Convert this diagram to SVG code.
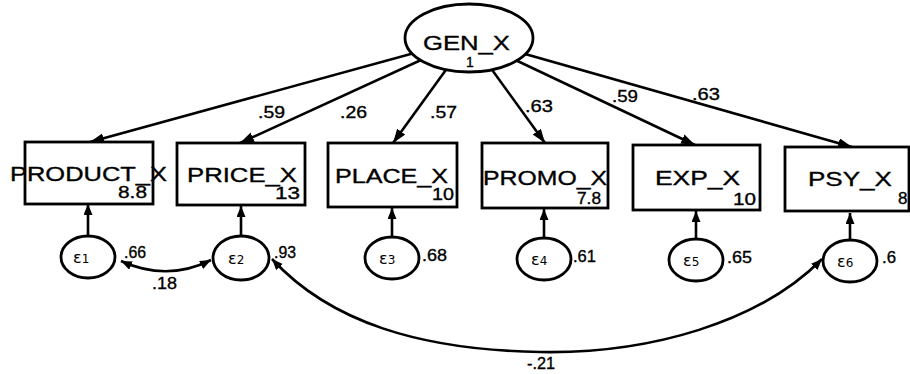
<svg xmlns="http://www.w3.org/2000/svg" width="910" height="374" viewBox="0 0 910 374">
<style>
.box{fill:#fff;stroke:#000;stroke-width:2.8}
.ell{fill:#fff;stroke:#000;stroke-width:2.8}
.ln{fill:none;stroke:#000;stroke-width:2.6}
.t{font-family:"Liberation Sans",Arial,sans-serif;fill:#000;stroke:#000;stroke-width:0.35}
.nm{font-size:21px}
.sm{font-size:17px}
.eps{font-family:"DejaVu Sans","Liberation Sans",sans-serif;font-size:16px;fill:#000}
</style>
<defs>
<marker id="ah" markerUnits="userSpaceOnUse" markerWidth="16" markerHeight="12" refX="14" refY="5" orient="auto-start-reverse">
<path d="M0,0 L14,5 L0,10 z" fill="#000"/>
</marker>
<marker id="ahs" markerUnits="userSpaceOnUse" markerWidth="12" markerHeight="12" refX="11" refY="4.5" orient="auto-start-reverse">
<path d="M0,0 L11,4.5 L0,9 z" fill="#000"/>
</marker>
</defs>
<rect width="910" height="374" fill="#fff"/>
<g id="connectors">
<line class="ln" x1="469" y1="38" x2="90" y2="142" marker-end="url(#ah)"/>
<line class="ln" x1="469" y1="38" x2="240" y2="143" marker-end="url(#ah)"/>
<line class="ln" x1="469" y1="38" x2="393" y2="143" marker-end="url(#ah)"/>
<line class="ln" x1="469" y1="38" x2="545" y2="143" marker-end="url(#ah)"/>
<line class="ln" x1="469" y1="38" x2="695" y2="145" marker-end="url(#ah)"/>
<line class="ln" x1="469" y1="38" x2="852" y2="147" marker-end="url(#ah)"/>
<line class="ln" x1="88" y1="236" x2="88" y2="204" marker-end="url(#ahs)"/>
<line class="ln" x1="241" y1="236" x2="241" y2="206" marker-end="url(#ahs)"/>
<line class="ln" x1="392" y1="236" x2="392" y2="208" marker-end="url(#ahs)"/>
<line class="ln" x1="544" y1="237" x2="544" y2="209" marker-end="url(#ahs)"/>
<line class="ln" x1="696" y1="238" x2="696" y2="211" marker-end="url(#ahs)"/>
<line class="ln" x1="850" y1="240" x2="850" y2="213" marker-end="url(#ahs)"/>
<path class="ln" d="M121,261 Q167,282 211,260" marker-start="url(#ahs)" marker-end="url(#ahs)"/>
<path class="ln" d="M272,259 C330,322 420,350 540,352 C650,354 760,322 822,259" marker-start="url(#ahs)" marker-end="url(#ahs)"/>
<text class="t sm" x="258" y="118" textLength="27" lengthAdjust="spacingAndGlyphs">.59</text>
<text class="t sm" x="340" y="118" textLength="27" lengthAdjust="spacingAndGlyphs">.26</text>
<text class="t sm" x="430" y="118" textLength="27" lengthAdjust="spacingAndGlyphs">.57</text>
<text class="t sm" x="525" y="112" textLength="28" lengthAdjust="spacingAndGlyphs">.63</text>
<text class="t sm" x="612" y="102" textLength="26" lengthAdjust="spacingAndGlyphs">.59</text>
<text class="t sm" x="692" y="100" textLength="28" lengthAdjust="spacingAndGlyphs">.63</text>
<text class="t sm" x="152" y="289" textLength="25" lengthAdjust="spacingAndGlyphs">.18</text>
<text class="t sm" x="527" y="369" textLength="28" lengthAdjust="spacingAndGlyphs">-.21</text>
</g>
<g id="GEN_X">
<ellipse class="ell" cx="469" cy="38" rx="64" ry="34"/>
<text class="t nm" x="423" y="50" textLength="87" lengthAdjust="spacingAndGlyphs">GEN_X</text>
<text class="t" x="470" y="67" font-size="14" text-anchor="middle">1</text>
</g>
<g id="PRODUCT_X">
<rect class="box" x="25" y="142" width="128" height="62"/>
<text class="t nm" x="10" y="181" textLength="157" lengthAdjust="spacingAndGlyphs">PRODUCT_X</text>
<text class="t sm" x="118" y="198" textLength="29" lengthAdjust="spacingAndGlyphs">8.8</text>
</g>
<g id="PRICE_X">
<rect class="box" x="177" y="143" width="128" height="62"/>
<text class="t nm" x="187" y="182" textLength="110" lengthAdjust="spacingAndGlyphs">PRICE_X</text>
<text class="t sm" x="275" y="199" textLength="25" lengthAdjust="spacingAndGlyphs">13</text>
</g>
<g id="PLACE_X">
<rect class="box" x="328" y="143" width="129" height="64"/>
<text class="t nm" x="335" y="183" textLength="113" lengthAdjust="spacingAndGlyphs">PLACE_X</text>
<text class="t sm" x="432" y="200" textLength="22" lengthAdjust="spacingAndGlyphs">10</text>
</g>
<g id="PROMO_X">
<rect class="box" x="482" y="143" width="126" height="65"/>
<text class="t nm" x="483" y="185" textLength="124" lengthAdjust="spacingAndGlyphs">PROMO_X</text>
<text class="t sm" x="577" y="204" textLength="24" lengthAdjust="spacingAndGlyphs">7.8</text>
</g>
<g id="EXP_X">
<rect class="box" x="633" y="145" width="127" height="65"/>
<text class="t nm" x="655" y="185" textLength="85" lengthAdjust="spacingAndGlyphs">EXP_X</text>
<text class="t sm" x="733" y="205" textLength="23" lengthAdjust="spacingAndGlyphs">10</text>
</g>
<g id="PSY_X">
<rect class="box" x="785" y="147" width="124" height="64"/>
<text class="t nm" x="808" y="186" textLength="84" lengthAdjust="spacingAndGlyphs">PSY_X</text>
<text class="t sm" x="898" y="204">8</text>
</g>
<g id="e1">
<ellipse class="ell" cx="88" cy="257" rx="27" ry="21"/>
<text class="eps" x="73" y="263">ε<tspan font-size="12">1</tspan></text>
<text class="t sm" x="124" y="258" textLength="22" lengthAdjust="spacingAndGlyphs">.66</text>
</g>
<g id="e2">
<ellipse class="ell" cx="241" cy="258" rx="28" ry="22"/>
<text class="eps" x="228" y="264">ε<tspan font-size="12">2</tspan></text>
<text class="t sm" x="274" y="258" textLength="22" lengthAdjust="spacingAndGlyphs">.93</text>
</g>
<g id="e3">
<ellipse class="ell" cx="392" cy="258" rx="27" ry="21"/>
<text class="eps" x="379" y="264">ε<tspan font-size="12">3</tspan></text>
<text class="t sm" x="422" y="261" textLength="25" lengthAdjust="spacingAndGlyphs">.68</text>
</g>
<g id="e4">
<ellipse class="ell" cx="544" cy="259" rx="27" ry="21"/>
<text class="eps" x="531" y="265">ε<tspan font-size="12">4</tspan></text>
<text class="t sm" x="573" y="262" textLength="23" lengthAdjust="spacingAndGlyphs">.61</text>
</g>
<g id="e5">
<ellipse class="ell" cx="696" cy="260" rx="27" ry="21"/>
<text class="eps" x="683" y="266">ε<tspan font-size="12">5</tspan></text>
<text class="t sm" x="727" y="263" textLength="25" lengthAdjust="spacingAndGlyphs">.65</text>
</g>
<g id="e6">
<ellipse class="ell" cx="850" cy="261" rx="27" ry="21"/>
<text class="eps" x="837" y="267">ε<tspan font-size="12">6</tspan></text>
<text class="t sm" x="882" y="263" textLength="14" lengthAdjust="spacingAndGlyphs">.6</text>
</g>
</svg>
